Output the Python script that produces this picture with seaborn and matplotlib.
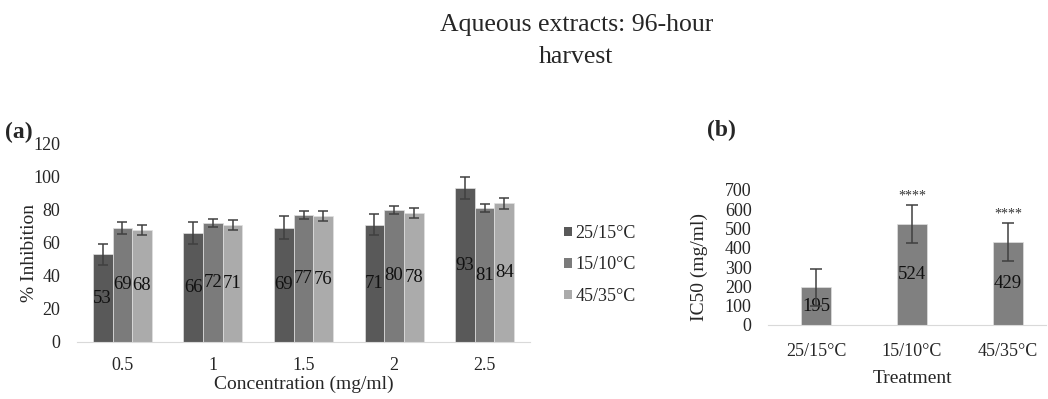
import pandas as pd
import matplotlib
matplotlib.use("Agg")
import matplotlib.pyplot as plt
from matplotlib.patches import Patch
import seaborn as sns

# -------------- DATA ------------------------
concentrations = ["0.5", "1", "1.5", "2", "2.5"]
treatments = ["25/15°C", "15/10°C", "45/35°C"]

inhib_25_15 = [53, 66, 69, 71, 93]
inhib_15_10 = [69, 72, 77, 80, 81]
inhib_45_35 = [68, 71, 76, 78, 84]
err_25_15 = [6.5, 6.5, 7.0, 6.5, 6.7]
err_15_10 = [3.5, 2.5, 2.5, 2.5, 2.5]
err_45_35 = [3.0, 3.0, 3.0, 3.3, 3.3]

ic50 = [195, 524, 429]
ic50_err = [97, 98, 97]
ic50_sig = ["", "****", "****"]

colors = ["#595959", "#7b7b7b", "#ababab"]
ic50_color = "#808080"
err_color = "#404040"

sns.set_style("white")
plt.rcParams["font.family"] = ["Liberation Serif", "DejaVu Serif"]

df = pd.DataFrame({
    "conc": concentrations * 3,
    "treatment": [t for t in treatments for _ in concentrations],
    "inhibition": inhib_25_15 + inhib_15_10 + inhib_45_35,
})
errs = [err_25_15, err_15_10, err_45_35]
vals = [inhib_25_15, inhib_15_10, inhib_45_35]

fig = plt.figure(figsize=(10.48, 3.99), dpi=100)
ax1 = fig.add_axes([0.0735, 0.143, 0.4322, 0.497])
ax2 = fig.add_axes([0.733, 0.1855, 0.2653, 0.3385])

# -------------- PANEL A ------------------------
sns.barplot(data=df, x="conc", y="inhibition", hue="treatment", order=concentrations,
            hue_order=treatments, palette=colors, errorbar=None, width=0.65,
            saturation=1, legend=False, ax=ax1, edgecolor="#e0e0e0", linewidth=0.5)

for cont, e, v in zip(ax1.containers, errs, vals):
    xs = [p.get_x() + p.get_width() / 2 for p in cont.patches]
    ax1.errorbar(xs, v, yerr=e, fmt="none", ecolor=err_color, elinewidth=1.1,
                 capsize=3.5, capthick=1.1, zorder=5)
    ax1.bar_label(cont, labels=[str(x) for x in v], label_type="center",
                  fontsize=13.5, color="#111111")

ax1.set_xlim(-0.5, 4.5)
ax1.set_ylim(0, 120)
ax1.set_yticks(range(0, 121, 20))
ax1.tick_params(axis="y", length=0, pad=12, labelsize=13)
ax1.tick_params(axis="x", length=0, pad=11, labelsize=13)
for s in ["top", "right", "left"]:
    ax1.spines[s].set_visible(False)
ax1.spines["bottom"].set_color("#d9d9d9")
ax1.set_xlabel("Concentration (mg/ml)", fontsize=14)
ax1.xaxis.set_label_coords(0.5, -0.17)
ax1.set_ylabel("% Inhibition", fontsize=14)
ax1.yaxis.set_label_coords(-0.086, 0.45)

handles = [Patch(facecolor=c, edgecolor="none") for c in colors]
fig.legend(handles, treatments, loc="center left", bbox_to_anchor=(0.523, 0.336),
           frameon=False, fontsize=13, handlelength=0.45, handleheight=0.45,
           handletextpad=0.15, labelspacing=0.8)

# -------------- PANEL B ------------------------
sns.barplot(x=treatments, y=ic50, color=ic50_color, errorbar=None, width=0.32,
            saturation=1, ax=ax2, edgecolor="#e0e0e0", linewidth=0.5)
cont = ax2.containers[0]
xs = [p.get_x() + p.get_width() / 2 for p in cont.patches]
ax2.errorbar(xs, ic50, yerr=ic50_err, fmt="none", ecolor=err_color, elinewidth=1.1,
             capsize=4, capthick=1.1, zorder=5)
ax2.bar_label(cont, labels=[str(x) for x in ic50], label_type="center",
              fontsize=13.5, color="#111111")
for x, v, e, s in zip(xs, ic50, ic50_err, ic50_sig):
    ax2.annotate(s, (x, v + e), xytext=(0, 2), textcoords="offset points",
                 ha="center", va="bottom", fontsize=10, color="#333333")

ax2.set_xlim(-0.5, 2.4)
ax2.set_ylim(0, 700)
ax2.set_yticks(range(0, 701, 100))
ax2.tick_params(axis="y", length=0, pad=12, labelsize=13)
ax2.tick_params(axis="x", length=0, pad=13, labelsize=13)
for s in ["top", "right", "left"]:
    ax2.spines[s].set_visible(False)
ax2.spines["bottom"].set_color("#d9d9d9")
ax2.set_xlabel("Treatment", fontsize=14)
ax2.xaxis.set_label_coords(0.52, -0.33)
ax2.set_ylabel("IC50 (mg/ml)", fontsize=14)
ax2.yaxis.set_label_coords(-0.215, 0.43)

# -------------- TITLE AND PANEL TAGS ------------------------
fig.text(0.55, 0.897, "Aqueous extracts: 96-hour\nharvest", ha="center", va="center",
         fontsize=18.5, linespacing=1.55)
fig.text(0.005, 0.669, "(a)", ha="left", va="center", fontsize=17, fontweight="bold")
fig.text(0.675, 0.674, "(b)", ha="left", va="center", fontsize=17, fontweight="bold")

fig.savefig("out.png", dpi=100)
plt.close(fig)
